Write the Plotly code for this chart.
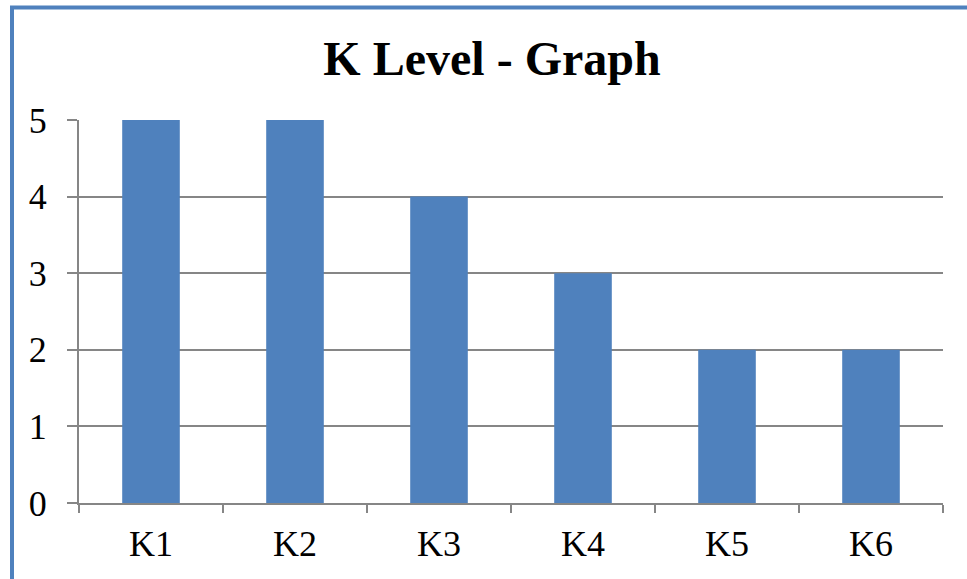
import plotly.graph_objects as go

categories = ["K1", "K2", "K3", "K4", "K5", "K6"]
values = [5, 5, 4, 3, 2, 2]
y_ticks = [0, 1, 2, 3, 4, 5]

W, H = 967, 579
L, T = 79, 120
R = W - 943
B = H - 503
pw, ph = W - L - R, H - T - B

fig = go.Figure(go.Bar(x=categories, y=values, marker=dict(color="#4F81BD", line=dict(width=0)), width=0.4))

serif = "Liberation Serif, Times New Roman, serif"
fig.update_layout(
    width=W, height=H,
    margin=dict(l=L, r=R, t=T, b=B),
    paper_bgcolor="white", plot_bgcolor="white",
    showlegend=False,
    font=dict(family=serif, color="black"),
    title=dict(text="<b>K Level - Graph</b>", font=dict(family=serif, size=48, color="black"),
               x=492 / W, xref="container", xanchor="center",
               y=1 - 58 / H, yref="container", yanchor="middle"),
    xaxis=dict(
        type="category", tickson="boundaries", ticks="outside", ticklen=8, tickcolor="#868686", tickwidth=2,
        showline=True, linecolor="#868686", linewidth=2, showgrid=False,
        tickfont=dict(family=serif, size=36, color="black"), range=[-0.5, 5.5],
        ticklabelstandoff=8,
    ),
    yaxis=dict(
        range=[0, 5], tickvals=y_ticks, ticks="outside", ticklen=10, tickcolor="#868686", tickwidth=2,
        showline=True, linecolor="#868686", linewidth=2, showgrid=True, gridcolor="#868686", gridwidth=2,
        zeroline=False, tickfont=dict(family=serif, size=36, color="black"), ticklabelstandoff=13,
    ),
    shapes=[dict(type="rect", xref="paper", yref="paper",
                 x0=(12 - L) / pw, x1=1.2, y0=-0.5, y1=(H - B - 7.5) / ph,
                 line=dict(color="#4F81BD", width=4), fillcolor="rgba(0,0,0,0)", layer="above")],
)

fig.write_html("out.html", config={"displayModeBar": False},
               post_script="document.body.style.margin='0';document.body.style.padding='0';")
